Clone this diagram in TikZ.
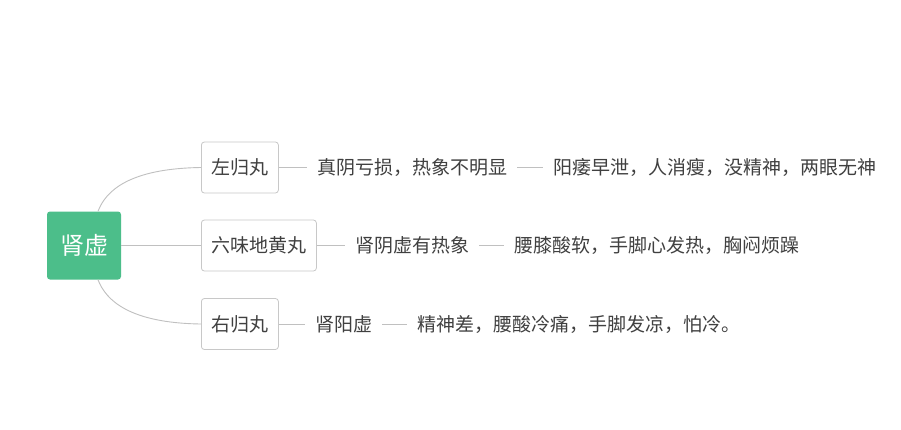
\documentclass[tikz,border=0pt]{standalone}
\usepackage{fontspec}
\setmainfont{Noto Sans CJK SC}
\begin{document}
\begin{tikzpicture}[x=1pt,y=-1pt,
  rootbox/.style={fill=rootgreen,rounded corners=3pt,text=white,font=\fontsize{24}{28}\selectfont,minimum width=74pt,minimum height=68pt,inner sep=0pt},
  herb/.style={draw=boxgray,line width=0.8pt,rounded corners=3pt,fill=white,text=txtgray,font=\fontsize{19}{22}\selectfont,minimum height=51pt,inner xsep=10pt,inner ysep=0pt,anchor=west},
  desc/.style={text=txtgray,font=\fontsize{19}{22}\selectfont,inner xsep=10pt,inner ysep=2pt,anchor=west},
  link/.style={draw=linegray,line width=0.9pt}]
\definecolor{rootgreen}{RGB}{76,190,138}
\definecolor{boxgray}{RGB}{200,200,200}
\definecolor{linegray}{RGB}{192,192,192}
\definecolor{txtgray}{RGB}{64,64,64}
\useasboundingbox[fill=white] (0,0) rectangle (901,429);
\node[rootbox] (root) at (84,245.5) {肾虚};
\node[herb] (h1) at (201,167.5) {左归丸};
\node[herb] (h2) at (201,245.5) {六味地黄丸};
\node[herb] (h3) at (201,324) {右归丸};
\node[desc] (a1) at (307,167.5) {真阴亏损，热象不明显};
\node[desc] (b1) at (543,167.5) {阳痿早泄，人消瘦，没精神，两眼无神};
\node[desc] (a2) at (345,245.5) {肾阴虚有热象};
\node[desc] (b2) at (504,245.5) {腰膝酸软，手脚心发热，胸闷烦躁};
\node[desc] (a3) at (305,324) {肾阳虚};
\node[desc] (b3) at (407,324) {精神差，腰酸冷痛，手脚发凉，怕冷。};
\draw[link] ([xshift=14pt]root.north) .. controls +(8,-21) and +(-71,1) .. (h1.west);
\draw[link] (root.east) -- (h2.west);
\draw[link] ([xshift=14pt]root.south) .. controls +(8,21) and +(-71,-1) .. (h3.west);
\draw[link] (h1.east) -- (a1.west);
\draw[link] (a1.east) -- (b1.west);
\draw[link] (h2.east) -- (a2.west);
\draw[link] (a2.east) -- (b2.west);
\draw[link] (h3.east) -- (a3.west);
\draw[link] (a3.east) -- (b3.west);
\end{tikzpicture}
\end{document}
